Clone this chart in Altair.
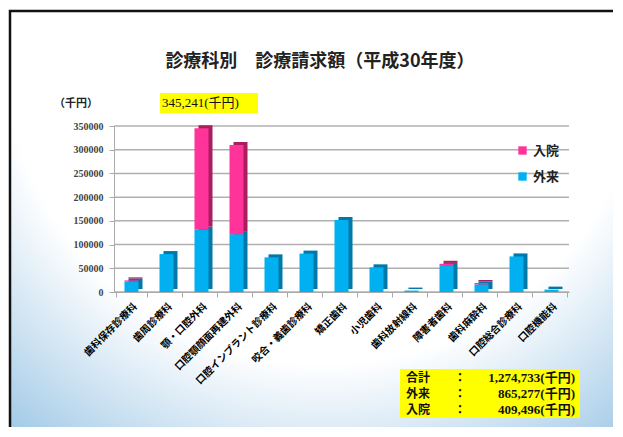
import altair as alt
import pandas as pd

# ---- data ----
depts = ["歯科保存診療科", "歯周診療科", "顎・口腔外科", "口腔顎顔面再建外科",
         "口腔インプラント診療科", "咬合・義歯診療科", "矯正歯科", "小児歯科",
         "歯科放射線科", "障害者歯科", "歯科麻酔科", "口腔総合診療科", "口腔機能科"]
outpatient = [22000, 80000, 131000, 122000, 73000, 81000, 152000, 52000,
              3000, 55000, 16000, 75000, 5000]
inpatient = [2500, 0, 214241, 188000, 0, 0, 0, 0, 0, 4500, 3000, 0, 0]
series = ["入院", "外来"]
series_colors = ["#FF3399", "#00B0F0"]
side_colors = ["#A81E5E", "#0078A8"]
y_ticks = [0, 50000, 100000, 150000, 200000, 250000, 300000, 350000]

title_text = "診療科別　診療請求額（平成30年度）"
unit_text = "（千円）"
peak_text = "345,241(千円)"
summary_labels = ["合計", "外来", "入院"]
summary_values = ["1,274,733(千円)", "865,277(千円)", "409,496(千円)"]

rows = []
for d, o, i in zip(depts, outpatient, inpatient):
    rows.append({"dept": d, "type": "外来", "value": o, "ord": 0})
    rows.append({"dept": d, "type": "入院", "value": i, "ord": 1})
df = pd.DataFrame(rows)

W, H = 455, 166
JP = "Liberation Serif, Noto Sans CJK JP"

bg = alt.Chart(pd.DataFrame({"a": [0]})).mark_rect(
    fill=alt.RadialGradient(
        gradient="radial", x1=0.5, y1=0.2, r1=0.0, x2=0.5, y2=0.2, r2=0.85,
        stops=[alt.GradientStop(offset=0, color="#ffffff"),
               alt.GradientStop(offset=0.6, color="#ffffff"),
               alt.GradientStop(offset=1, color="#8fbfe2")]),
    stroke="#111", strokeWidth=2.5,
).encode(x=alt.value(-104), x2=alt.value(W + 70), y=alt.value(-115), y2=alt.value(H + 160))

yscale = alt.Scale(domain=[0, 350000], nice=False)
yaxis = alt.Axis(values=y_ticks, format="d", labelFont="Liberation Serif",
                 labelFontWeight="bold", labelFontSize=10, labelColor="#444",
                 grid=False, domainColor="#aaa", tickColor="#aaa", labelPadding=6,
                 zindex=1)

grid = alt.Chart(pd.DataFrame({"v": y_ticks})).mark_rule(color="#b0b0b0", strokeWidth=1.5).encode(
    y=alt.Y("v:Q", scale=yscale, axis=yaxis, title=None), x=alt.value(0), x2=alt.value(W))

xenc = alt.X("dept:N", sort=depts, title=None,
             axis=alt.Axis(labelAngle=315, labelFont="Noto Sans CJK JP", labelFontWeight="bold",
                           labelFontSize=10, labelColor="#000", labelLimit=300, labelPadding=4,
                           tickBand="extent", domainColor="#aaa", tickColor="#aaa", tickSize=5,
                           grid=False, zindex=1))
yenc = alt.Y("value:Q", stack="zero", title=None, scale=yscale, axis=yaxis)

side = alt.Chart(df).mark_bar(size=14, xOffset=4, yOffset=-3).encode(
    x=xenc, y=yenc,
    color=alt.Color("type:N", scale=alt.Scale(domain=series, range=side_colors), legend=None),
    order=alt.Order("ord:Q"),
)
front = alt.Chart(df).mark_bar(size=14).encode(
    x=xenc, y=yenc,
    color=alt.Color("type:N", scale=alt.Scale(domain=series, range=series_colors),
                    legend=alt.Legend(title=None, orient="none", legendX=402, legendY=18,
                                      symbolType="square", symbolSize=70, rowPadding=12,
                                      labelFont="Noto Sans CJK JP", labelFontWeight="bold",
                                      labelFontSize=13, labelColor="#222", zindex=1)),
    order=alt.Order("ord:Q"),
)

def text_layer(txt, x, y, **kw):
    return alt.Chart(pd.DataFrame({"t": [txt]})).mark_text(**kw).encode(
        text="t:N", x=alt.value(x), y=alt.value(y))

title = text_layer(title_text, 206, -64, font="Noto Sans CJK JP", fontWeight="bold",
                   fontSize=18, color="#222")
unit = text_layer(unit_text, -38, -22, font="Noto Sans CJK JP", fontWeight="bold",
                  fontSize=11, color="#222")

peak_box = alt.Chart(pd.DataFrame({"a": [0]})).mark_rect(fill="#FFFF00").encode(
    x=alt.value(46), x2=alt.value(144), y=alt.value(-33), y2=alt.value(-13))
peak = text_layer(peak_text, 48, -23, font=JP, fontSize=13, align="left", color="#111")

sum_box = alt.Chart(pd.DataFrame({"a": [0]})).mark_rect(fill="#FFFF00").encode(
    x=alt.value(286), x2=alt.value(466), y=alt.value(243), y2=alt.value(292))
sum_layers = []
for k, (lab, val) in enumerate(zip(summary_labels, summary_values)):
    yy = 252 + k * 16
    sum_layers.append(text_layer(lab, 292, yy, font="Noto Sans CJK JP", fontWeight="bold",
                                 fontSize=12, align="left", color="#111"))
    sum_layers.append(text_layer("：", 340, yy, font="Noto Sans CJK JP", fontWeight="bold",
                                 fontSize=12, align="left", color="#111"))
    sum_layers.append(text_layer(val, 461, yy, font=JP, fontWeight="bold",
                                 fontSize=13, align="right", color="#111"))

chart = alt.layer(bg, grid, side, front, title, unit, peak_box, peak, sum_box, *sum_layers).resolve_scale(
    color="independent", x="shared", y="shared"
).properties(
    width=W, height=H, autosize=alt.AutoSizeParams(type="none"),
    padding={"left": 106, "top": 118, "right": 44, "bottom": 135},
).configure_view(stroke=None)

chart.save("out.html", embed_options={"renderer": "svg", "actions": False})
